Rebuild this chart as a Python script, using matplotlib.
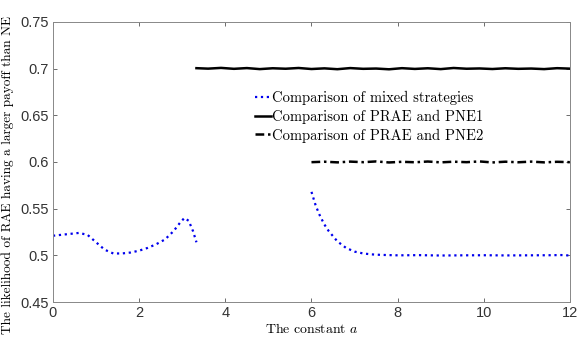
import matplotlib
matplotlib.use('Agg')
import matplotlib.pyplot as plt

plt.rcParams['mathtext.fontset'] = 'cm'

# mixed strategies, first part (0 .. 3.33)
x_mix1 = [0, 0.2, 0.4, 0.6, 0.8, 1.0, 1.2, 1.4, 1.6, 1.8, 2.0, 2.2, 2.4, 2.6, 2.8, 2.95, 3.05, 3.15, 3.25, 3.33]
y_mix1 = [0.521, 0.522, 0.523, 0.524, 0.522, 0.514, 0.506, 0.502, 0.502, 0.503, 0.505, 0.508,
          0.512, 0.517, 0.526, 0.535, 0.540, 0.537, 0.526, 0.514]

# mixed strategies, second part (6 .. 12)
x_mix2 = [6.0, 6.1, 6.2, 6.3, 6.4, 6.6, 6.8, 7.0, 7.2, 7.4, 7.6, 8.0, 8.5, 9.0, 9.5, 10.0, 10.5, 11.0, 11.5, 11.8, 12.0]
y_mix2 = [0.568, 0.553, 0.542, 0.533, 0.526, 0.515, 0.508, 0.504, 0.502, 0.501, 0.5005, 0.500, 0.5002, 0.4998,
          0.500, 0.5001, 0.4999, 0.500, 0.5001, 0.5003, 0.4998]

# PRAE vs PNE1 (3.33 .. 12)
x_pne1 = [3.33, 3.6, 3.9, 4.2, 4.5, 4.8, 5.1, 5.4, 5.7, 6.0, 6.3, 6.6, 6.9, 7.2, 7.5, 7.8, 8.1, 8.4,
          8.7, 9.0, 9.3, 9.6, 9.9, 10.2, 10.5, 10.8, 11.1, 11.4, 11.7, 12.0]
y_pne1 = [0.7005, 0.7000, 0.7008, 0.6998, 0.7006, 0.6995, 0.7004, 0.6999, 0.7007, 0.6996, 0.7003, 0.6994,
          0.7006, 0.6998, 0.7001, 0.6993, 0.7005, 0.6997, 0.7004, 0.6995, 0.7007, 0.6999, 0.7002, 0.6996,
          0.7004, 0.6998, 0.7001, 0.6995, 0.7005, 0.7000]

# PRAE vs PNE2 (6 .. 12)
x_pne2 = [6.0, 6.3, 6.6, 6.9, 7.2, 7.5, 7.8, 8.1, 8.4, 8.7, 9.0, 9.3, 9.6, 9.9, 10.2, 10.5,
          10.8, 11.1, 11.4, 11.7, 12.0]
y_pne2 = [0.5998, 0.6003, 0.5996, 0.6004, 0.5998, 0.6006, 0.5995, 0.6002, 0.5997, 0.6005, 0.5996,
          0.6003, 0.5998, 0.6006, 0.5995, 0.6003, 0.5997, 0.6004, 0.5996, 0.6002, 0.5998]

fig = plt.figure(figsize=(5.81, 3.38), dpi=100)
ax = fig.add_axes([0.0912, 0.1065, 0.8898, 0.8285])

l1, = ax.plot(x_mix1, y_mix1, color='#0000ee', linestyle=':', linewidth=1.6)
ax.plot(x_mix2, y_mix2, color='#0000ee', linestyle=':', linewidth=1.6)
l2, = ax.plot(x_pne1, y_pne1, color='black', linestyle='-', linewidth=1.8)
l3, = ax.plot(x_pne2, y_pne2, color='black', linestyle=(0, (3.5, 1.5, 1, 1.5)), linewidth=1.8)

ax.set_xlim(0, 12)
ax.set_ylim(0.45, 0.75)
ax.set_xticks([0, 2, 4, 6, 8, 10, 12])
ax.set_yticks([0.45, 0.5, 0.55, 0.6, 0.65, 0.7, 0.75])
ax.set_yticklabels(['0.45', '0.5', '0.55', '0.6', '0.65', '0.7', '0.75'])
ax.tick_params(direction='in', top=True, right=True, length=3, width=0.6, color='#555555',
               labelsize=10.5, colors='#333333', pad=3)
for lbl in ax.get_xticklabels() + ax.get_yticklabels():
    lbl.set_family('Liberation Sans')
for sp in ax.spines.values():
    sp.set_color('#888888')
    sp.set_linewidth(0.7)

ax.set_xlabel('The constant $a$', family='cmr10', fontsize=10, labelpad=1)
ax.set_ylabel('The likelihood of RAE having a larger payoff than NE', family='cmr10', fontsize=9.6, labelpad=3)
ax.yaxis.set_label_coords(-0.075, 0.455)

leg = ax.legend([l1, l2, l3],
                ['Comparison of mixed strategies', 'Comparison of PRAE and PNE1', 'Comparison of PRAE and PNE2'],
                loc='upper left', bbox_to_anchor=(0.365, 0.8), frameon=False, handlelength=1.1,
                handletextpad=0.1, labelspacing=0.3, prop={'family': 'cmr10', 'size': 10.5})

fig.savefig('out.png', dpi=100)
